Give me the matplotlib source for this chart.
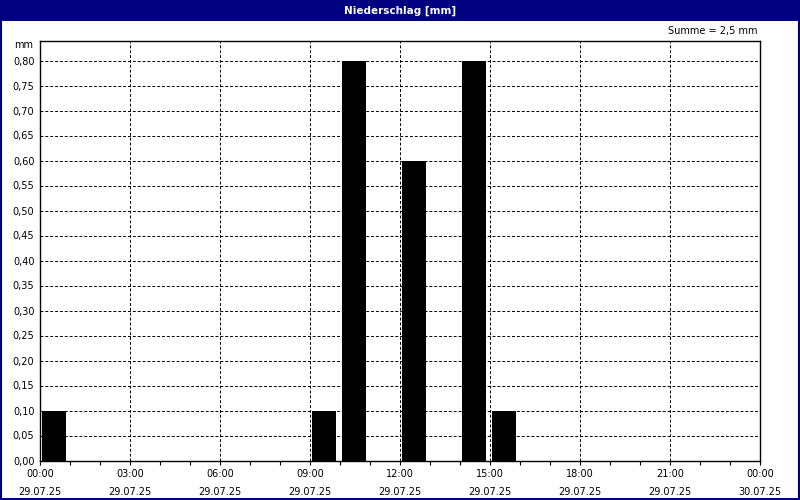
import matplotlib.pyplot as plt
import matplotlib.patches as mpatches
import numpy as np

# hourly precipitation, 29.07.25 00:00 .. 23:00
hours = list(range(24))
precip = [0.10, 0, 0, 0, 0, 0, 0, 0, 0, 0.10, 0.80, 0, 0.60, 0, 0.80, 0.10,
          0, 0, 0, 0, 0, 0, 0, 0]
tick_hours = [0, 3, 6, 9, 12, 15, 18, 21, 24]
tick_labels = ['00:00\n29.07.25', '03:00\n29.07.25', '06:00\n29.07.25',
               '09:00\n29.07.25', '12:00\n29.07.25', '15:00\n29.07.25',
               '18:00\n29.07.25', '21:00\n29.07.25', '00:00\n30.07.25']
y_ticks = np.round(np.arange(0, 0.801, 0.05), 2)
title = 'Niederschlag [mm]'
total_text = 'Summe = 2,5 mm'

navy = '#000080'
plt.rcParams['font.family'] = 'DejaVu Sans'
plt.rcParams['font.size'] = 7

fig = plt.figure(figsize=(8, 5), dpi=100)
fig.patch.set_facecolor('white')

# title bar + frame
fig.patches.append(mpatches.Rectangle((0, 1 - 20.5 / 500), 1, 20.5 / 500, transform=fig.transFigure,
                                      facecolor=navy, edgecolor='none', zorder=0))
fig.patches.append(mpatches.Rectangle((0.001, 0.002), 0.998, 0.997, transform=fig.transFigure,
                                      facecolor='none', edgecolor=navy, linewidth=1.5, zorder=0))
fig.text(0.5, 1 - 10.5 / 500, title, color='white', fontweight='bold', fontsize=7.5,
         ha='center', va='center')

ax = fig.add_axes([40 / 800, 39.5 / 500, 720 / 800, 420 / 500])
ax.bar(np.array(hours) + 0.07, precip, width=0.8, align='edge', color='black', zorder=3)

ax.set_xlim(0, 24)
ax.set_ylim(0, 0.84)
ax.set_xticks(tick_hours)
ax.set_xticklabels(tick_labels, linespacing=2.0)
ax.set_xticks(range(25), minor=True)
ax.set_yticks(y_ticks)
ax.set_yticklabels([('%.2f' % v).replace('.', ',') for v in y_ticks])
ax.tick_params(axis='x', which='both', direction='out', length=3, width=0.8, pad=3)
ax.tick_params(axis='y', length=0, pad=4)

ax.grid(True, which='major', color='black', linestyle=(0, (3, 2)), linewidth=0.7, zorder=1)
for s in ax.spines.values():
    s.set_linewidth(1.0)
    s.set_zorder(4)

fig.text(33 / 800, 1 - 45 / 500, 'mm', ha='right', va='center')
fig.text(757 / 800, 1 - 31 / 500, total_text, ha='right', va='center')

fig.savefig('out.png', dpi=100)
